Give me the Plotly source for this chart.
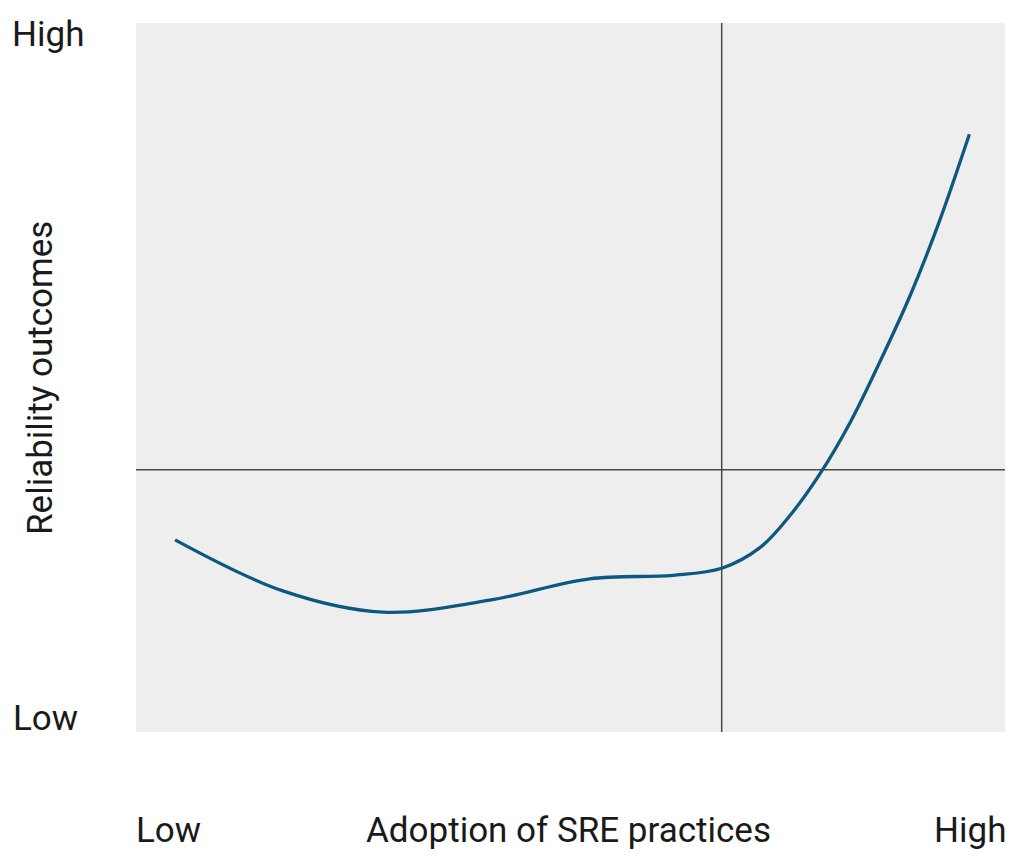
import plotly.graph_objects as go

# Data (axis units 0-100)
adoption = [4.5, 16.9, 28.4, 40.7, 52.2, 61.8, 67.4, 71.8, 75.3, 78.7, 82.2, 85.6, 89.1, 92.5, 95.9]
reliability = [27.1, 19.9, 16.9, 18.6, 21.6, 22.1, 23.1, 26.0, 30.6, 36.4, 43.7, 52.2, 61.6, 72.2, 84.3]
x_divider = 67.4
y_divider = 37.0

OFF = 8  # page body margin
W, H = 1022, 866
L, R, T, B = 136 - OFF, 17 + OFF, 23 - OFF, 134 + OFF
pw, ph = W - L - R, H - T - B

def px(x):
    return (x - OFF - L) / pw

def py(y):
    return (H - B - (y - OFF)) / ph

fig = go.Figure()
fig.add_trace(go.Scatter(x=adoption, y=reliability, mode="lines",
                         line=dict(color="#0d5880", width=3.3, shape="spline", smoothing=1.0),
                         hoverinfo="skip", showlegend=False))

fig.add_shape(type="line", x0=x_divider, x1=x_divider, y0=0, y1=100, xref="x", yref="y",
              line=dict(color="#4a4a4a", width=1.5), layer="below")
fig.add_shape(type="line", x0=0, x1=100, y0=y_divider, y1=y_divider, xref="x", yref="y",
              line=dict(color="#4a4a4a", width=1.5), layer="below")

font = dict(family="Roboto, Inter, sans-serif", size=35, color="#1a1a1a")
anns = [
    ("High", 48, 35, 0),
    ("Low", 45, 718, 0),
    ("Reliability outcomes", 40, 378, -90),
    ("Low", 168, 830, 0),
    ("Adoption of SRE practices", 568, 830, 0),
    ("High", 970, 830, 0),
]
for text, x, y, ang in anns:
    fig.add_annotation(text=text, x=px(x), y=py(y), xref="paper", yref="paper",
                       showarrow=False, textangle=ang, font=font,
                       xanchor="center", yanchor="middle")

fig.update_layout(
    width=W, height=H,
    margin=dict(l=L, r=R, t=T, b=B),
    paper_bgcolor="white", plot_bgcolor="#eeeeee",
    xaxis=dict(range=[0, 100], visible=False, fixedrange=True),
    yaxis=dict(range=[0, 100], visible=False, fixedrange=True),
)

fig.write_html("out.html")
